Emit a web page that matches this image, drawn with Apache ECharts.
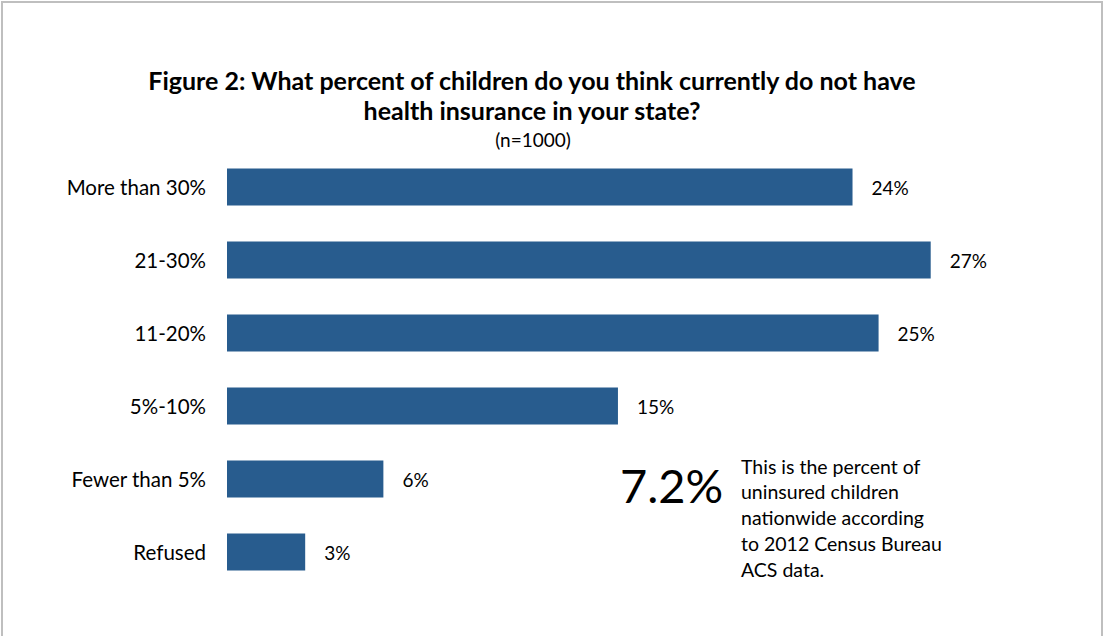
<!DOCTYPE html>
<html>
<head>
<meta charset="utf-8">
<style>
  html, body { margin: 0; padding: 0; background: #ffffff; }
  #chart { width: 1105px; height: 636px; }
</style>
<script src="https://cdn.jsdelivr.net/npm/echarts@6/dist/echarts.min.js"></script>
</head>
<body>
<div id="chart"></div>
<script>
// Survey answers, top to bottom
const categories = ['More than 30%', '21-30%', '11-20%', '5%-10%', 'Fewer than 5%', 'Refused'];
const shares = [24, 27, 25, 15, 6, 3];

const titleLines = [
  'Figure 2: What percent of children do you think currently do not have',
  'health insurance in your state?'
];
const sampleNote = '(n=1000)';
const nationalRate = '7.2%';
const nationalNote = [
  'This is the percent of',
  'uninsured children',
  'nationwide according',
  'to 2012 Census Bureau',
  'ACS data.'
];

const FONT = 'Lato, "Open Sans", sans-serif';
const BAR = '#285C8E';

const chart = echarts.init(document.getElementById('chart'), null, { renderer: 'svg' });

const noteLines = nationalNote.map((line, i) => ({
  type: 'text',
  left: 741,
  top: 456 + i * 25.8,
  style: { text: line, font: '19.5px ' + FONT, fill: '#000000' }
}));

chart.setOption({
  animation: false,
  backgroundColor: '#ffffff',
  title: [
    {
      text: titleLines.join('\n'),
      left: 527,
      top: 60,
      textAlign: 'center',
      textStyle: { fontFamily: FONT, fontSize: 25, fontWeight: 'bold', color: '#000000', lineHeight: 30 }
    },
    {
      text: sampleNote,
      left: 528,
      top: 125,
      textAlign: 'center',
      textStyle: { fontFamily: FONT, fontSize: 19, fontWeight: 'normal', color: '#000000' }
    }
  ],
  grid: { left: 227, top: 150.5, height: 438, width: 781.9, containLabel: false },
  xAxis: {
    type: 'value',
    min: 0,
    max: 30,
    show: false
  },
  yAxis: {
    type: 'category',
    data: categories,
    inverse: true,
    axisLine: { show: false },
    axisTick: { show: false },
    axisLabel: { margin: 21, fontFamily: FONT, fontSize: 20.5, color: '#000000' }
  },
  series: [{
    type: 'bar',
    data: shares,
    barCategoryGap: '49%',
    itemStyle: { color: BAR },
    label: {
      show: true,
      position: 'right',
      distance: 19,
      formatter: p => p.value + '%',
      fontFamily: FONT,
      fontSize: 19,
      color: '#000000'
    }
  }],
  graphic: [
    {
      type: 'rect',
      silent: true,
      shape: { x: 2, y: 2, width: 1100, height: 700 },
      style: { fill: 'none', stroke: '#BFBFBF', lineWidth: 2 }
    },
    {
      type: 'text',
      left: 620,
      top: 461,
      style: { text: nationalRate, font: '47px ' + FONT, fill: '#000000' }
    }
  ].concat(noteLines)
});
</script>
</body>
</html>
